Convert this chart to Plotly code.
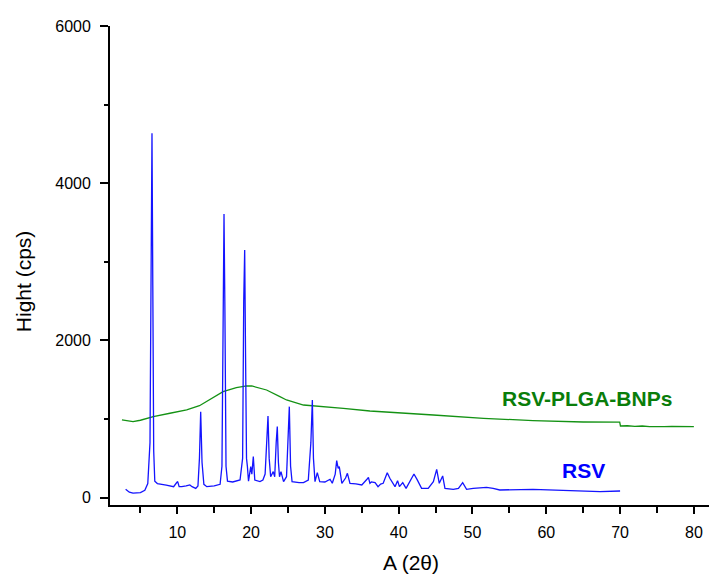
import plotly.graph_objects as go

# RSV (pure drug) diffractogram
rsv_x = [3.0, 3.5, 4.0, 5.0, 5.6, 6.0, 6.3, 6.45, 6.57, 6.68, 6.8, 6.95, 7.3, 8.5, 9.5, 9.9, 10.05, 10.25,
         10.6, 11.2, 11.7, 12.0, 12.5, 12.8, 13.0, 13.17, 13.35, 13.6, 14.0, 15.0, 15.8, 16.05, 16.2, 16.33,
         16.45, 16.6, 16.8, 17.5, 18.5, 18.85, 19.0, 19.13, 19.25, 19.38, 19.5, 19.65, 19.95, 20.1, 20.3,
         20.5, 21.2, 21.6, 21.9, 22.15, 22.29, 22.45, 22.65, 23.0, 23.2, 23.4, 23.55, 23.7, 23.85, 24.05,
         24.4, 24.8, 25.0, 25.18, 25.35, 25.55, 26.5, 27.1, 27.75, 28.1, 28.3, 28.45, 28.66, 28.97, 29.3,
         30.0, 30.7, 31.0, 31.4, 31.6, 31.8, 31.95, 32.3, 32.8, 33.05, 33.4, 34.2, 35.0, 35.7, 35.9, 36.1,
         36.3, 36.8, 37.2, 37.55, 37.9, 38.45, 38.8, 39.5, 39.85, 40.1, 40.55, 41.0, 41.6, 42.07, 42.5,
         43.1, 44.0, 44.7, 45.15, 45.5, 45.96, 46.27, 47.4, 48.1, 48.67, 49.2, 50.1, 51.9, 52.8, 53.7,
         58.2, 62.8, 67.3, 70.0]
rsv_y = [107, 70, 58, 65, 95, 180, 700, 3400, 4636, 2700, 600, 210, 180, 160, 140, 190, 205, 140,
         140, 150, 162, 140, 118, 150, 500, 1094, 450, 170, 140, 150, 170, 400, 2800, 3609,
         2400, 400, 210, 200, 225, 500, 2500, 3151, 1800, 500, 395, 210, 395, 300, 522,
         225, 204, 225, 300, 800, 1039, 500, 267, 331, 267, 700, 904, 450, 267, 331,
         204, 267, 800, 1158, 400, 204, 191, 191, 225, 700, 1243, 500, 204, 318, 204,
         200, 234, 183, 300, 471, 374, 395, 183, 250, 310, 183, 175, 162, 234, 259, 183,
         200, 191, 140, 174, 183, 318, 247, 140, 217, 140, 191, 119, 220, 301, 230,
         119, 119, 204, 361, 183, 276, 119, 107, 119, 191, 107, 119, 132, 119, 98,
         107, 89, 76, 85]

# RSV-PLGA-BNPs diffractogram
bnp_x = [2.5, 3.0, 4.0, 5.0, 6.75, 9.0, 11.27, 13.0, 15.8, 16.2, 18.0, 19.4, 20.1, 21.2, 22.1, 23.9,
         24.8, 27.1, 30.0, 32.5, 36.1, 37.9, 44.7, 51.5, 58.2, 65.0, 69.95, 70.05, 71.0, 72.0, 73.0,
         74.0, 75.0, 76.0, 77.0, 78.0, 79.0, 80.0]
bnp_y = [990, 985, 967, 985, 1031, 1074, 1116, 1170, 1320, 1349, 1400, 1421, 1421, 1391, 1370, 1285,
         1243, 1179, 1160, 1137, 1103, 1094, 1052, 1010, 980, 963, 960, 912, 915, 908, 912,
         905, 909, 904, 907, 903, 905, 903]

x_range = [0.88, 82.05]
y_range = [-93, 6000]

fig = go.Figure()
fig.add_trace(go.Scatter(x=bnp_x, y=bnp_y, mode="lines",
                         line=dict(color="#149214", width=1.3), showlegend=False))
fig.add_trace(go.Scatter(x=rsv_x, y=rsv_y, mode="lines",
                         line=dict(color="#1414FF", width=1.3), showlegend=False))

font_family = "Arial, Liberation Sans, sans-serif"

fig.update_layout(
    width=709, height=574,
    margin=dict(l=110, r=0, t=26, b=69),
    paper_bgcolor="white", plot_bgcolor="white",
    font=dict(family=font_family, color="black"),
    xaxis=dict(range=x_range, showgrid=False, zeroline=False, showline=True,
               linecolor="black", linewidth=1.8, ticks="outside", ticklen=7, tickwidth=1.5,
               tickcolor="black", dtick=10, tick0=0, ticklabelstandoff=5,
               minor=dict(dtick=5, tick0=0, ticks="outside", ticklen=6, tickwidth=1.5, tickcolor="black"),
               tickfont=dict(size=16, family=font_family)),
    yaxis=dict(range=y_range, showgrid=False, zeroline=False, showline=True,
               linecolor="black", linewidth=1.8, ticks="outside", ticklen=8, tickwidth=1.5,
               tickcolor="black", dtick=2000, tick0=0, ticklabelstandoff=6,
               minor=dict(dtick=1000, tick0=0, ticks="outside", ticklen=4, tickwidth=1.5, tickcolor="black"),
               tickfont=dict(size=16, family=font_family)),
    annotations=[
        dict(text="A (2θ)", xref="paper", yref="paper", x=0.502, y=-0.121,
             xanchor="center", yanchor="middle", showarrow=False,
             font=dict(size=21, family=font_family, color="black")),
        dict(text="Hight (cps)", xref="paper", yref="paper", x=-0.145, y=0.4676,
             xanchor="center", yanchor="middle", textangle=-90, showarrow=False,
             font=dict(size=21, family=font_family, color="black")),
        dict(text="<b>RSV-PLGA-BNPs</b>", x=65.5, y=1268, xanchor="center", yanchor="middle",
             showarrow=False, font=dict(size=21, family=font_family, color="#0A7D0A")),
        dict(text="<b>RSV</b>", x=65.0, y=352, xanchor="center", yanchor="middle",
             showarrow=False, font=dict(size=21, family=font_family, color="#0000FF")),
    ],
)

fig.write_html("out.html")
